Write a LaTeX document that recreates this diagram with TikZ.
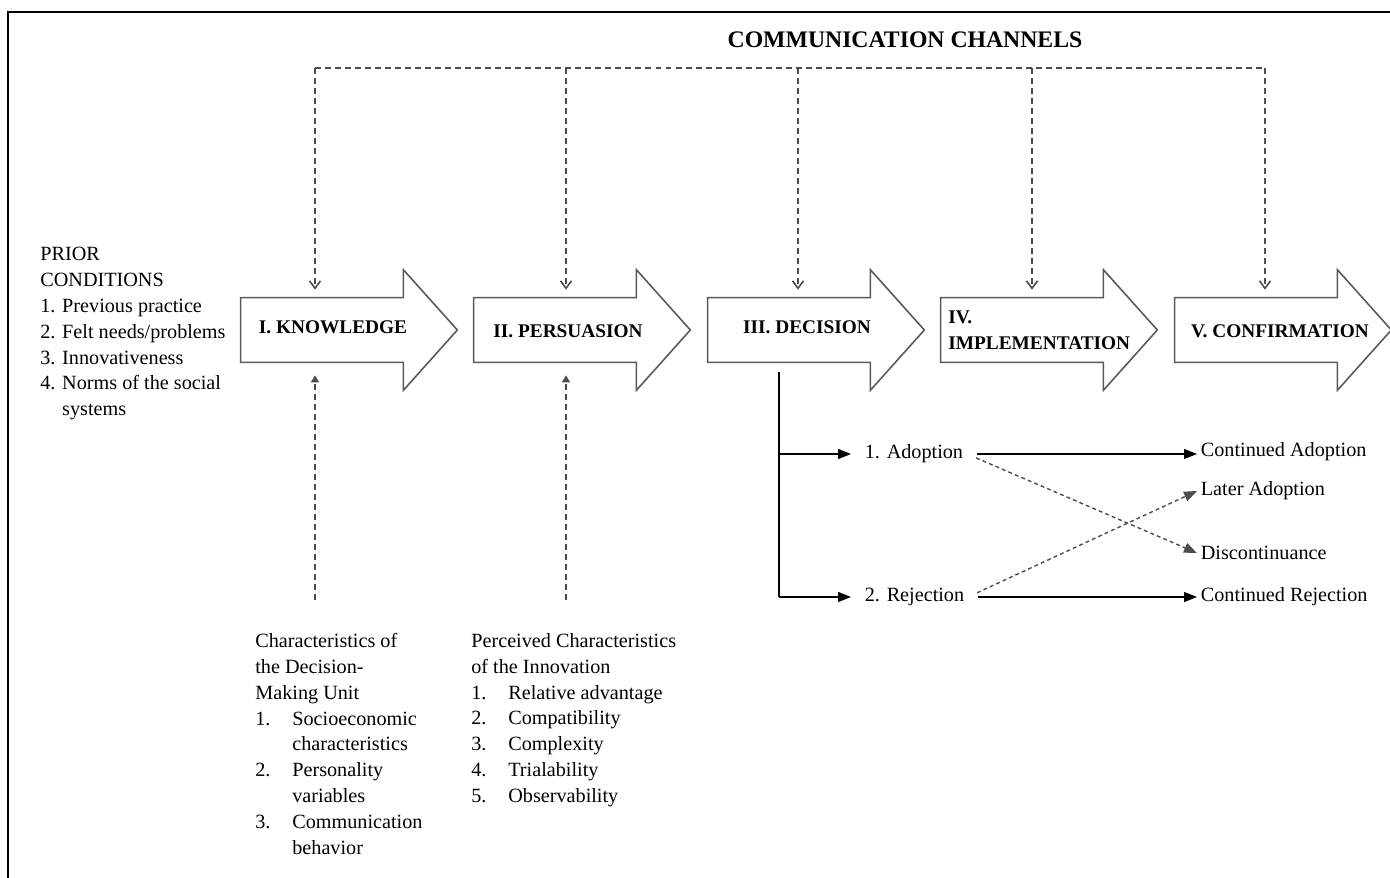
\documentclass[tikz,border=0pt]{standalone}
\usepackage{fontspec}
\setmainfont{Liberation Serif}
\usetikzlibrary{arrows.meta,calc,positioning}

\newcommand{\lnum}[1]{\makebox[0.74cm][l]{#1}}
\newcommand{\lindent}{\hspace*{0.74cm}}

\tikzset{
  txt/.style={font=\fontsize{11.5}{14.7}\selectfont, inner sep=0pt, align=left},
  stagebody/.style={minimum width=3.24cm, minimum height=1.28cm, inner sep=0pt},
  stageline/.style={draw=black!65, line width=0.9pt, line join=miter},
  stagelbl/.style={font=\bfseries\fontsize{11}{14.6}\selectfont, inner sep=0pt, align=left},
  chan/.style={draw=black!70, line width=0.9pt, dash pattern=on 3.4pt off 2.3pt},
  branch/.style={draw=black, line width=0.8pt, -{Triangle[length=2.6mm,width=2mm]}},
  cross/.style={branch, draw=black!70, dash pattern=on 2.2pt off 1.8pt},
  leaf/.style={font=\fontsize{11.5}{14.7}\selectfont, inner sep=2pt},
}

\begin{document}
\begin{tikzpicture}[x=0.02cm, y=-0.02cm]
    \useasboundingbox (0,0) rectangle (1390,878);
    \draw[line width=1.3pt] (8,880) -- (8,12) -- (1392,12);

    \node[font=\bfseries\fontsize{13.5}{16}\selectfont] (cctitle) at (905,40) {COMMUNICATION CHANNELS};

    % the five stages
    \node[stagebody] (know) at (322,330) {};
    \node[stagebody] (pers) at (555,330) {};
    \node[stagebody] (deci) at (789,330) {};
    \node[stagebody] (impl) at (1022,330) {};
    \node[stagebody] (conf) at (1256,330) {};
    \foreach \s in {know,pers,deci,impl,conf}
        \draw[stageline] (\s.north west) -- (\s.north east) -- ++(0,0.56cm)
            -- ($(\s.east)+(1.08cm,0)$) -- ($(\s.south east)+(0,-0.56cm)$)
            -- (\s.south east) -- (\s.south west) -- cycle;
    \node[stagelbl] (knowlbl) at (333,327) {I. KNOWLEDGE};
    \node[stagelbl] (perslbl) at (568,331) {II. PERSUASION};
    \node[stagelbl] (decilbl) at (807,327) {III. DECISION};
    \node[stagelbl, anchor=west] (impllbl) at (948,330) {IV.\\IMPLEMENTATION};
    \node[stagelbl] (conflbl) at (1280,331) {V. CONFIRMATION};

    % communication channels
    \coordinate (ch1) at (315,68);
    \coordinate (ch2) at (566,68);
    \coordinate (ch3) at (798,68);
    \coordinate (ch4) at (1032,68);
    \coordinate (ch5) at (1265,68);
    \draw[chan] (ch1) -- (ch5);
    \foreach \c/\s in {ch1/know,ch2/pers,ch3/deci,ch4/impl,ch5/conf}
        \draw[chan, -{Straight Barb[length=1.5mm,width=2.2mm]}, shorten >=0.16cm] (\c) -- (\c |- \s.north);

    \coordinate (kin) at (315,600);
    \coordinate (pin) at (566,600);
    \draw[chan, -{Triangle[length=1.4mm,width=1.6mm]}, shorten >=0.26cm] (kin) -- (kin |- know.south);
    \draw[chan, -{Triangle[length=1.4mm,width=1.6mm]}, shorten >=0.26cm] (pin) -- (pin |- pers.south);

    \node[txt, anchor=north west] (prior) at (40,247) {PRIOR\\CONDITIONS\\1. Previous practice\\2. Felt needs/problems\\3. Innovativeness\\4. Norms of the social\\\phantom{4. }systems};

    \node[txt, anchor=north west] (unitchar) at (255,633) {Characteristics of\\the Decision-\\Making Unit\\\lnum{1.}Socioeconomic\\\lindent characteristics\\\lnum{2.}Personality\\\lindent variables\\\lnum{3.}Communication\\\lindent behavior};
    \node[txt, anchor=north west] (innochar) at (471,633) {Perceived Characteristics\\of the Innovation\\\lnum{1.}Relative advantage\\\lnum{2.}Compatibility\\\lnum{3.}Complexity\\\lnum{4.}Trialability\\\lnum{5.}Observability};

    % decision outcomes
    \coordinate (split) at (779,372);
    \node[leaf, anchor=west] (adopt) at (861,454) {1. Adoption};
    \node[leaf, anchor=west] (reject) at (861,597) {2. Rejection};
    \node[leaf, anchor=west] (contadopt) at (1197,452) {Continued Adoption};
    \node[leaf, anchor=west] (later) at (1197,491) {Later Adoption};
    \node[leaf, anchor=west] (discont) at (1197,553) {Discontinuance};
    \node[leaf, anchor=west] (contreject) at (1197,597) {Continued Rejection};
    \draw[line width=0.8pt] (split) -- (split |- reject);
    \draw[branch, shorten >=0.2cm] (split |- adopt) -- (adopt);
    \draw[branch, shorten >=0.2cm] (split |- reject) -- (reject);
    \draw[branch, shorten <=0.2cm] (adopt.east) -- (adopt.east -| contadopt.west);
    \draw[branch, shorten <=0.2cm] (reject.east) -- (reject.east -| contreject.west);
    \draw[cross, shorten <=0.2cm] (adopt.east) -- (discont.west);
    \draw[cross, shorten <=0.2cm] (reject.east) -- (later.west);
\end{tikzpicture}
\end{document}
